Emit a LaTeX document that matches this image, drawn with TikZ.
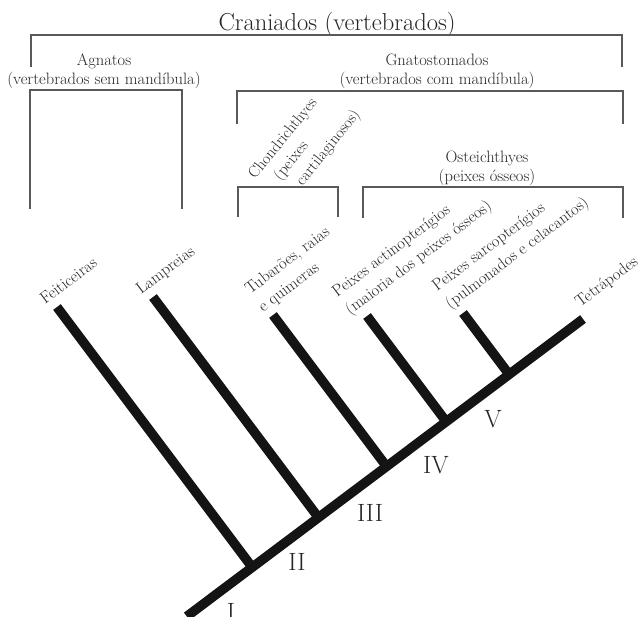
\documentclass[tikz,border=0pt]{standalone}
\usepackage{fontspec}
\begin{document}
\begin{tikzpicture}[x=1pt,y=-1pt,
  bracket/.style={draw=black!65, line width=1.3pt},
  branch/.style={draw=black!92, line width=9.5pt},
  taxon/.style={font=\fontsize{16.5}{22}\selectfont, text=black!85, rotate=37, anchor=base west, inner sep=0pt},
  chond/.style={font=\fontsize{16}{20.5}\selectfont, text=black!85, rotate=51, anchor=base west, inner sep=0pt},
  group/.style={font=\fontsize{16.5}{19.5}\selectfont, text=black!85, anchor=base, inner sep=0pt},
  title/.style={font=\fontsize{24.5}{28}\selectfont, text=black!85, anchor=base, inner sep=0pt},
  roman/.style={font=\fontsize{25}{28}\selectfont, text=black!85, anchor=base, inner sep=0pt}]
\useasboundingbox (0,0) rectangle (644,616);
\fill[white] (0,0) rectangle (644,616);

% group labels
\node[title] (cran) at (337,30) {Craniados (vertebrados)};
\node[group] (agn) at (104,65) {\begin{tabular}[t]{@{}c@{}}Agnatos\\(vertebrados sem mandíbula)\end{tabular}};
\node[group] (gna) at (437,65) {\begin{tabular}[t]{@{}c@{}}Gnatostomados\\(vertebrados com mandíbula)\end{tabular}};
\node[group] (ost) at (487,162) {\begin{tabular}[t]{@{}c@{}}Osteichthyes\\(peixes ósseos)\end{tabular}};
\node[chond] (cho) at (255,180) {\begin{tabular}[t]{@{}l@{}}Chondrichthyes\\\hspace{15pt}(peixes\\\hspace{25pt}cartilaginosos)\end{tabular}};

% brackets
\draw[bracket] (31,67) -- (31,35) -- (622,35) -- (622,67);
\draw[bracket] (30,209) -- (30,90) -- (182,90) -- (182,209);
\draw[bracket] (237,124) -- (237,91) -- (623,91) -- (623,124);
\draw[bracket] (238,217) -- (238,187) -- (338,187) -- (338,217);
\draw[bracket] (363,218) -- (363,187) -- (623,187) -- (623,218);

% tree coordinates
\coordinate (root) at (186.8,616.4);
\coordinate (tip) at (583,319);
\coordinate (jF) at (252.2,567.3);
\coordinate (jL) at (318.5,517.6);
\coordinate (jT) at (386.6,466.5);
\coordinate (jA) at (446.3,421.8);
\coordinate (jS) at (509.2,374.6);
\coordinate (tF) at (57,307);
\coordinate (tL) at (153,297);
\coordinate (tT) at (273,315);
\coordinate (tA) at (367,316);
\coordinate (tS) at (463,313);

\draw[branch] (root) -- (tip);
\draw[branch] (tF) -- (jF);
\draw[branch] (tL) -- (jL);
\draw[branch] (tT) -- (jT);
\draw[branch] (tA) -- (jA);
\draw[branch] (tS) -- (jS);

% taxon labels
\node[taxon] (fei) at (45,305) {Feiticeiras};
\node[taxon] (lam) at (141,295) {Lampreias};
\node[taxon] (tub) at (250,295) {\begin{tabular}[t]{@{}l@{}}Tubarões, raias\\e quimeras\end{tabular}};
\node[taxon] (act) at (337,298) {\begin{tabular}[t]{@{}l@{}}Peixes actinopterígios\\(maioria dos peixes ósseos)\end{tabular}};
\node[taxon] (sar) at (437,292) {\begin{tabular}[t]{@{}l@{}}Peixes sarcopterígios\\(pulmonados e celacantos)\end{tabular}};
\node[taxon] (tet) at (580,308) {Tetrápodes};

% roman numerals
\node[roman] (r1) at (231,620) {I};
\node[roman] (r2) at (297,570) {II};
\node[roman] (r3) at (370,521) {III};
\node[roman] (r4) at (436,473) {IV};
\node[roman] (r5) at (493,427) {V};
\end{tikzpicture}
\end{document}
